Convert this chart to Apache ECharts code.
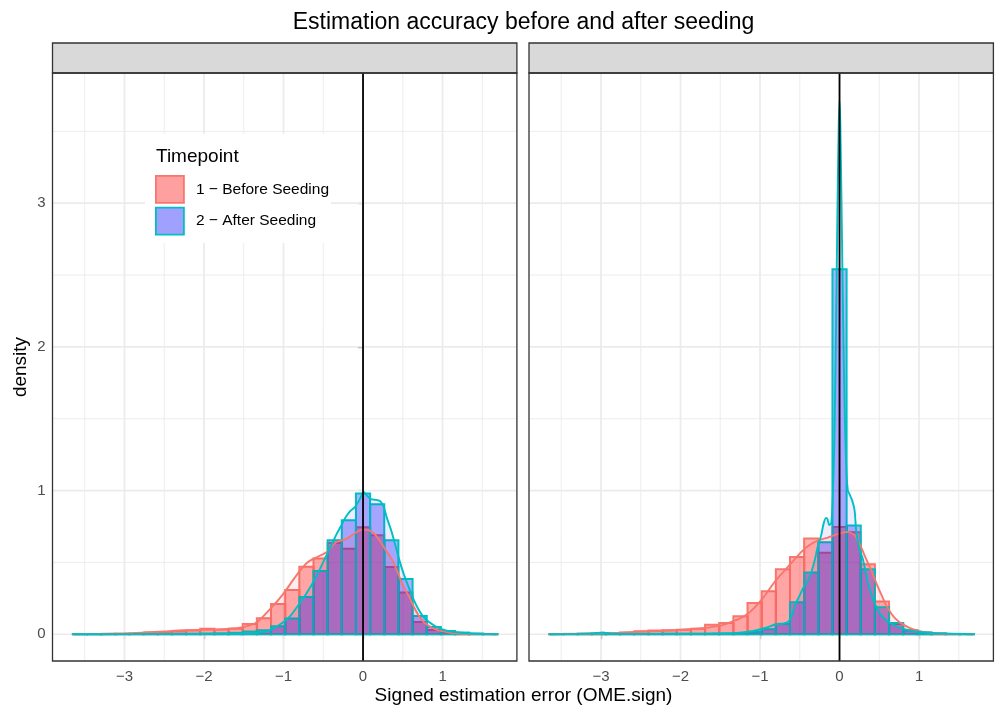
<!DOCTYPE html>
<html><head><meta charset="utf-8">
<script src="https://cdn.jsdelivr.net/npm/echarts@6/dist/echarts.min.js"></script>
<style>html,body{margin:0;padding:0;background:#fff}#c{width:996px;height:708px}</style>
</head><body><div id="c"></div>
<script>
// ---------- data ----------
const titleText = 'Estimation accuracy before and after seeding';
const xTitle = 'Signed estimation error (OME.sign)';
const yTitle = 'density';
const legendTitle = 'Timepoint';
const groups = ['1 \u2212 Before Seeding', '2 \u2212 After Seeding'];

const xTicks = [-3, -2, -1, 0, 1];
const xMinor = [-3.5, -2.5, -1.5, -0.5, 0.5, 1.5];
const yTicks = [0, 1, 2, 3];
const yMinor = [0.5, 1.5, 2.5, 3.5];
const vlineX = [0];

const binWidth = 0.178;
const binCenters = [-3.560, -3.382, -3.204, -3.026, -2.848, -2.670, -2.492, -2.314, -2.136, -1.958,
  -1.780, -1.602, -1.424, -1.246, -1.068, -0.890, -0.712, -0.534, -0.356, -0.178,
  0, 0.178, 0.356, 0.534, 0.712, 0.890, 1.068, 1.246, 1.424, 1.602];

// panel 1 histogram densities
const p1Before = [0.002, 0.002, 0.003, 0.004, 0.006, 0.012, 0.016, 0.020, 0.027, 0.038,
  0.034, 0.039, 0.072, 0.112, 0.211, 0.308, 0.470, 0.527, 0.635, 0.596,
  0.745, 0.689, 0.469, 0.290, 0.086, 0.030, 0.014, 0.006, 0.003, 0.001];
const p1After = [0.001, 0.001, 0.001, 0.001, 0.001, 0.002, 0.002, 0.003, 0.004, 0.005,
  0.006, 0.010, 0.019, 0.028, 0.055, 0.109, 0.260, 0.440, 0.654, 0.794,
  0.979, 0.905, 0.654, 0.384, 0.128, 0.051, 0.023, 0.012, 0.005, 0.002];
// panel 2 histogram densities
const p2Before = [0.002, 0.003, 0.004, 0.005, 0.007, 0.012, 0.021, 0.027, 0.028, 0.032,
  0.039, 0.067, 0.079, 0.125, 0.218, 0.300, 0.452, 0.538, 0.666, 0.567,
  0.747, 0.710, 0.487, 0.228, 0.072, 0.028, 0.012, 0.005, 0.002, 0.001];
const p2After = [0.001, 0.002, 0.003, 0.004, 0.003, 0.003, 0.002, 0.002, 0.003, 0.003,
  0.003, 0.004, 0.005, 0.008, 0.015, 0.035, 0.072, 0.222, 0.430, 0.640,
  2.540, 0.757, 0.452, 0.188, 0.079, 0.026, 0.012, 0.006, 0.003, 0.001];

// kernel density curves [x, density]
const p1BeforeDens = [[-3.64,0],[-3.3,0.002],[-3.0,0.005],[-2.75,0.012],[-2.5,0.02],[-2.25,0.028],[-2.0,0.031],[-1.83,0.032],[-1.65,0.04],[-1.49,0.052],[-1.33,0.086],[-1.16,0.18],[-1.0,0.283],[-0.89,0.37],[-0.79,0.445],[-0.7,0.5],[-0.62,0.527],[-0.53,0.55],[-0.45,0.575],[-0.38,0.62],[-0.33,0.643],[-0.2,0.666],[-0.1,0.705],[0.0,0.728],[0.07,0.725],[0.14,0.70],[0.2,0.66],[0.26,0.608],[0.33,0.55],[0.39,0.492],[0.45,0.41],[0.51,0.33],[0.58,0.26],[0.64,0.19],[0.7,0.13],[0.76,0.086],[0.83,0.058],[0.89,0.039],[1.0,0.02],[1.1,0.01],[1.25,0.004],[1.4,0.002],[1.68,0]];
const p1AfterDens = [[-3.64,0],[-3.0,0.001],[-2.5,0.002],[-2.0,0.003],[-1.7,0.004],[-1.5,0.006],[-1.33,0.01],[-1.16,0.032],[-1.0,0.086],[-0.91,0.13],[-0.83,0.19],[-0.74,0.26],[-0.66,0.33],[-0.6,0.39],[-0.54,0.457],[-0.45,0.561],[-0.39,0.63],[-0.33,0.70],[-0.28,0.75],[-0.24,0.794],[-0.2,0.83],[-0.16,0.858],[-0.1,0.886],[-0.05,0.93],[0.01,0.991],[0.05,0.965],[0.1,0.94],[0.17,0.935],[0.22,0.925],[0.26,0.886],[0.3,0.81],[0.35,0.73],[0.39,0.654],[0.45,0.53],[0.51,0.422],[0.58,0.32],[0.64,0.237],[0.7,0.17],[0.76,0.121],[0.83,0.085],[0.89,0.063],[0.95,0.045],[1.01,0.032],[1.1,0.02],[1.18,0.014],[1.35,0.005],[1.5,0.002],[1.68,0]];
const p2BeforeDens = [[-3.64,0],[-3.3,0.003],[-3.0,0.006],[-2.8,0.01],[-2.58,0.016],[-2.3,0.022],[-2.07,0.028],[-1.9,0.035],[-1.7,0.044],[-1.5,0.06],[-1.36,0.086],[-1.25,0.11],[-1.15,0.144],[-1.07,0.185],[-0.985,0.237],[-0.9,0.30],[-0.817,0.364],[-0.73,0.42],[-0.65,0.469],[-0.56,0.525],[-0.48,0.573],[-0.4,0.612],[-0.31,0.643],[-0.23,0.66],[-0.147,0.673],[-0.06,0.69],[0.02,0.705],[0.105,0.712],[0.19,0.689],[0.23,0.65],[0.27,0.608],[0.33,0.53],[0.40,0.445],[0.46,0.36],[0.52,0.283],[0.58,0.21],[0.65,0.144],[0.71,0.105],[0.78,0.074],[0.86,0.05],[0.94,0.032],[1.05,0.017],[1.15,0.009],[1.3,0.004],[1.49,0.002],[1.68,0]];
const p2AfterDens = [[-3.64,0],[-3.3,0.002],[-3.1,0.006],[-2.98,0.012],[-2.85,0.004],[-2.5,0.003],[-2.0,0.004],[-1.6,0.006],[-1.3,0.01],[-1.15,0.018],[-1.03,0.03],[-0.9,0.05],[-0.8,0.07],[-0.7,0.076],[-0.64,0.09],[-0.6,0.13],[-0.56,0.2],[-0.51,0.26],[-0.45,0.33],[-0.4,0.37],[-0.35,0.44],[-0.31,0.52],[-0.27,0.62],[-0.23,0.69],[-0.2,0.77],[-0.17,0.81],[-0.15,0.80],[-0.13,0.76],[-0.105,0.77],[-0.085,0.95],[-0.065,1.35],[-0.045,2.1],[-0.025,3.0],[-0.01,3.55],[0,3.71],[0.01,3.55],[0.025,3.0],[0.045,2.2],[0.065,1.55],[0.085,1.15],[0.105,1.0],[0.13,0.97],[0.16,0.93],[0.19,0.86],[0.21,0.72],[0.25,0.59],[0.29,0.53],[0.33,0.43],[0.37,0.33],[0.42,0.25],[0.47,0.18],[0.52,0.135],[0.58,0.10],[0.65,0.074],[0.76,0.045],[0.9,0.025],[1.0,0.016],[1.2,0.008],[1.45,0.003],[1.68,0]];

// ---------- styling / layout ----------
const FONT = '"Liberation Sans", Arial, Helvetica, sans-serif';
const RED = '#F8766D', CYAN = '#00BFC4';
const HIST_FILL = ['rgba(255,0,0,0.30)', 'rgba(0,0,255,0.30)'];
const DENS_FILL = ['rgba(255,0,0,0.10)', 'rgba(0,0,255,0.10)'];
const X_MIN = -3.905, X_MAX = 1.935, Y_MIN = -0.186, Y_MAX = 3.906;
const PANEL_TOP = 73, PANEL_H = 588, PANEL_W = 464.4;
const PANEL_LEFT = [52.5, 529];
const STRIP_H = 30;

const fmt = v => (v < 0 ? '\u2212' + (-v) : String(v));

function gridLines(gi, values, vertical, width) {
  return {
    type: 'custom', xAxisIndex: gi, yAxisIndex: gi, z: 1, silent: true,
    data: values.map(v => vertical ? [v, 0] : [0, v]),
    encode: {x: 0, y: 1},
    renderItem: (params, api) => {
      const cs = params.coordSys;
      if (vertical) {
        const x = api.coord([api.value(0), 0])[0];
        return {type: 'line', shape: {x1: x, y1: cs.y, x2: x, y2: cs.y + cs.height},
          style: {stroke: '#EBEBEB', lineWidth: width}};
      }
      const y = api.coord([0, api.value(1)])[1];
      return {type: 'line', shape: {x1: cs.x, y1: y, x2: cs.x + cs.width, y2: y},
        style: {stroke: '#EBEBEB', lineWidth: width}};
    }
  };
}

function histSeries(gi, gIdx, heights) {
  const stroke = gIdx === 0 ? RED : CYAN;
  const fill = HIST_FILL[gIdx];
  return {
    type: 'custom', name: groups[gIdx], xAxisIndex: gi, yAxisIndex: gi, z: 3,
    data: binCenters.map((c, i) => [c - binWidth / 2, c + binWidth / 2, heights[i]]),
    encode: {x: [0, 1], y: 2},
    renderItem: (params, api) => {
      const p0 = api.coord([api.value(0), 0]);
      const p1 = api.coord([api.value(1), api.value(2)]);
      return {type: 'rect',
        shape: {x: p0[0], y: p1[1], width: p1[0] - p0[0], height: p0[1] - p1[1]},
        style: {fill: fill, stroke: stroke, lineWidth: 2}};
    }
  };
}

function densSeries(gi, gIdx, pts) {
  return {
    type: 'line', name: groups[gIdx], xAxisIndex: gi, yAxisIndex: gi, z: 4,
    data: pts, showSymbol: false, smooth: 0.2, silent: true,
    lineStyle: {color: gIdx === 0 ? RED : CYAN, width: 1.9},
    itemStyle: {color: gIdx === 0 ? RED : CYAN},
    areaStyle: {color: DENS_FILL[gIdx]}
  };
}

function vline(gi) {
  return {
    type: 'custom', xAxisIndex: gi, yAxisIndex: gi, z: 6, silent: true,
    data: vlineX.map(v => [v, 0]), encode: {x: 0, y: 1},
    renderItem: (params, api) => {
      const cs = params.coordSys;
      const x = api.coord([api.value(0), 0])[0];
      return {type: 'line', shape: {x1: x, y1: cs.y, x2: x, y2: cs.y + cs.height},
        style: {stroke: '#000', lineWidth: 1.8}};
    }
  };
}

const series = [];
[0, 1].forEach(gi => {
  series.push(gridLines(gi, xMinor, true, 0.9));
  series.push(gridLines(gi, yMinor, false, 0.9));
  series.push(gridLines(gi, xTicks, true, 1.7));
  series.push(gridLines(gi, yTicks, false, 1.7));
});
series.push(histSeries(0, 0, p1Before));
series.push(histSeries(0, 1, p1After));
series.push(histSeries(1, 0, p2Before));
series.push(histSeries(1, 1, p2After));
series.push(densSeries(0, 0, p1BeforeDens));
series.push(densSeries(0, 1, p1AfterDens));
series.push(densSeries(1, 0, p2BeforeDens));
series.push(densSeries(1, 1, p2AfterDens));
series.push(vline(0));
series.push(vline(1));

const graphics = [];
[0, 1].forEach(gi => {
  graphics.push({type: 'rect', z: 100, silent: true,
    shape: {x: PANEL_LEFT[gi], y: PANEL_TOP - STRIP_H, width: PANEL_W, height: STRIP_H},
    style: {fill: '#D9D9D9', stroke: '#333333', lineWidth: 1.3}});
  graphics.push({type: 'rect', z: 100, silent: true,
    shape: {x: PANEL_LEFT[gi], y: PANEL_TOP, width: PANEL_W, height: PANEL_H},
    style: {fill: null, stroke: '#333333', lineWidth: 1.3}});
});
// legend background & title
graphics.push({type: 'rect', z: 50, silent: true,
  shape: {x: 145, y: 134, width: 186, height: 109}, style: {fill: '#fff'}});
graphics.push({type: 'text', z: 60, x: 156, y: 157, silent: true,
  style: {text: legendTitle, fontSize: 19, fontFamily: FONT, fill: '#000', align: 'left', verticalAlign: 'middle'}});
// titles
graphics.push({type: 'text', z: 60, x: 523.5, y: 23, silent: true,
  style: {text: titleText, fontSize: 23, fontFamily: FONT, fill: '#000', align: 'center', verticalAlign: 'middle'}});
graphics.push({type: 'text', z: 60, x: 523.5, y: 696, silent: true,
  style: {text: xTitle, fontSize: 19, fontFamily: FONT, fill: '#000', align: 'center', verticalAlign: 'middle'}});
graphics.push({type: 'text', z: 60, x: 21, y: 367, rotation: Math.PI / 2, silent: true,
  style: {text: yTitle, fontSize: 19, fontFamily: FONT, fill: '#000', align: 'center', verticalAlign: 'middle'}});

const chart = echarts.init(document.getElementById('c'), null, {renderer: 'canvas'});
chart.setOption({
  animation: false,
  backgroundColor: '#fff',
  grid: [0, 1].map(gi => ({left: PANEL_LEFT[gi], top: PANEL_TOP, width: PANEL_W, height: PANEL_H,
    show: false, containLabel: false})),
  xAxis: [0, 1].map(gi => ({
    type: 'value', gridIndex: gi, min: X_MIN, max: X_MAX,
    axisLine: {show: false}, splitLine: {show: false},
    axisTick: {show: true, customValues: xTicks, length: 5, lineStyle: {color: '#333333', width: 1.2}},
    axisLabel: {show: true, customValues: xTicks, formatter: fmt, color: '#4D4D4D', fontSize: 15,
      fontFamily: FONT, margin: 8}
  })),
  yAxis: [0, 1].map(gi => ({
    type: 'value', gridIndex: gi, min: Y_MIN, max: Y_MAX,
    axisLine: {show: false}, splitLine: {show: false},
    axisTick: {show: gi === 0, customValues: yTicks, length: 5, lineStyle: {color: '#333333', width: 1.2}},
    axisLabel: {show: gi === 0, customValues: yTicks, formatter: fmt, color: '#4D4D4D', fontSize: 15,
      fontFamily: FONT, margin: 7}
  })),
  legend: {
    orient: 'vertical', left: 155, top: 175, itemWidth: 28, itemHeight: 27, itemGap: 3,
    z: 60, selectedMode: false, padding: 0,
    data: [
      {name: groups[0], icon: 'rect', itemStyle: {color: '#FFA0A0', borderColor: RED, borderWidth: 1.8}},
      {name: groups[1], icon: 'rect', itemStyle: {color: '#A0A0FF', borderColor: CYAN, borderWidth: 1.8}}
    ],
    textStyle: {fontSize: 15.5, color: '#000', fontFamily: FONT, padding: [0, 0, 0, 7]}
  },
  graphic: graphics,
  series: series
});
</script>
</body></html>
